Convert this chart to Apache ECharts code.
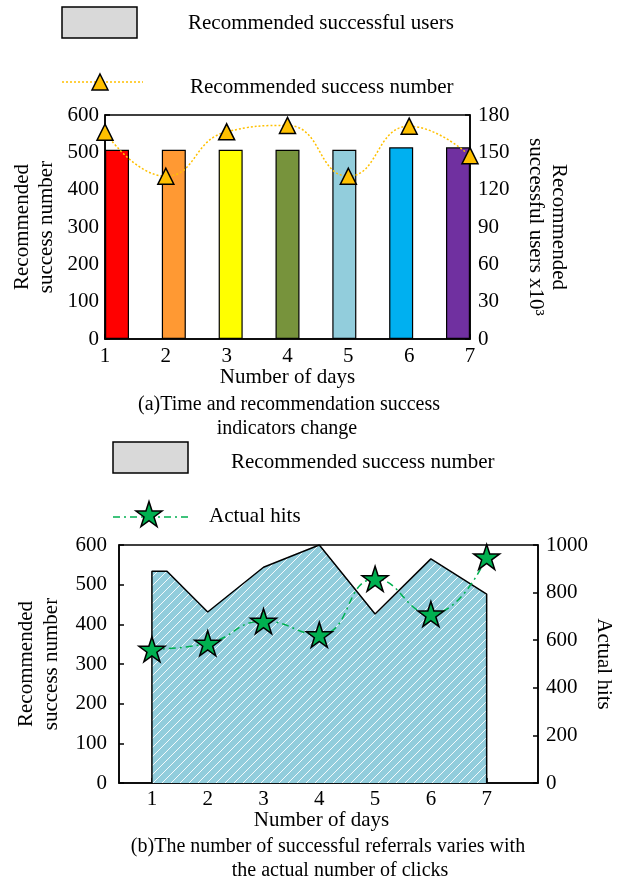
<!DOCTYPE html>
<html>
<head>
<meta charset="utf-8">
<script src="https://cdn.jsdelivr.net/npm/echarts@6/dist/echarts.min.js"></script>
<style>
  html, body { margin: 0; padding: 0; background: #fff; }
  #chart { width: 619px; height: 885px; }
</style>
</head>
<body>
<div id="chart"></div>
<script>
// ---- data: panel (a) ----
const days = [1, 2, 3, 4, 5, 6, 7];
const dayLabels = ['1', '2', '3', '4', '5', '6', '7'];
const successUsers = [152, 152, 152, 152, 152, 154, 154];      // x10^3, right axis
const successNumberA = [554, 436, 555, 572, 436, 570, 491];     // left axis

// ---- data: panel (b) ----
const areaDays = [1, 1, 1.27, 2, 3, 4, 5, 6, 7, 7];
const areaNumber = [0, 534, 534, 431, 544, 600, 426, 565, 476, 0];
const actualHits = [562, 587, 680, 623, 858, 710, 950];

// ---- tick settings ----
const leftTicksA = { min: 0, max: 600, interval: 100 };
const rightTicksA = { min: 0, max: 180, interval: 30 };
const leftTicksB = { min: 0, max: 600, interval: 100 };
const rightTicksB = { min: 0, max: 1000, interval: 200 };

// bar fill colours, one per day
const barColors = ['#FF0000', '#FF9933', '#FFFF00', '#77933C', '#92CDDC', '#00B0F0', '#7030A0'];

const FONT = 'Liberation Serif';
const FS = 21;

// striped fill for the area
function stripePattern() {
  const c = document.createElement('canvas');
  const s = 9;
  c.width = s; c.height = s;
  const g = c.getContext('2d');
  g.fillStyle = '#92CDDC';
  g.fillRect(0, 0, s, s);
  g.strokeStyle = 'rgba(255,255,255,0.9)';
  g.lineWidth = 1;
  for (const k of [-s, 0, s]) {
    g.beginPath();
    g.moveTo(k, s);
    g.lineTo(k + s, 0);
    g.stroke();
  }
  return c;
}

// five-pointed star outline in a 100x100 box
const STAR_PTS = [[50, 0], [61.23, 34.55], [97.55, 34.55], [68.17, 55.9], [79.39, 90.45],
                  [50, 69.1], [20.61, 90.45], [31.83, 55.9], [2.45, 34.55], [38.77, 34.55]];
const STAR = 'path://M' + STAR_PTS.map(p => p.join(',')).join('L') + 'Z';
function starAt(cx, cy, w, h) {
  return STAR_PTS.map(p => [cx + (p[0] - 50) / 95.1 * w, cy + (p[1] - 45.2) / 90.45 * h]);
}

const axisText = { color: '#000', fontFamily: FONT, fontSize: FS };
const line = { lineStyle: { color: '#000', width: 1.5 } };
const tick = { inside: true, length: 5, lineStyle: { color: '#000', width: 1.5 } };
const plain = v => String(v);
const txt = (x, y, text, size, align) => ({
  type: 'text', x: x, y: y,
  style: { text: text, fill: '#000', font: size + 'px "' + FONT + '"', align: align || 'left', verticalAlign: 'middle' }
});

// half a bar, in day units, so the outer bars touch the frame
const barPad = 0.211;

const chart = echarts.init(document.getElementById('chart'), null, { renderer: 'canvas' });

chart.setOption({
  animation: false,
  backgroundColor: '#fff',
  textStyle: { fontFamily: FONT },
  grid: [
    { left: 105, top: 115, width: 365, height: 224, outerBoundsMode: 'none', containLabel: false,
      show: true, borderColor: '#000', borderWidth: 1.5, backgroundColor: 'transparent' },
    { left: 119, top: 545, width: 419, height: 238, outerBoundsMode: 'none', containLabel: false,
      show: true, borderColor: '#000', borderWidth: 1.5, backgroundColor: 'transparent' }
  ],
  xAxis: [
    {
      gridIndex: 0, type: 'category', data: dayLabels, boundaryGap: false,
      axisLine: line, axisTick: Object.assign({ alignWithLabel: true }, tick),
      axisLabel: Object.assign({ margin: 7 }, axisText),
      splitLine: { show: false },
      name: 'Number of days', nameLocation: 'middle', nameGap: 28, nameMoveOverlap: false,
      nameTextStyle: axisText
    },
    {
      gridIndex: 0, type: 'value', min: days[0] - barPad, max: days[days.length - 1] + barPad, show: false
    },
    {
      gridIndex: 1, type: 'value', min: 0.41, max: 7.92,
      axisLine: line,
      axisTick: Object.assign({ customValues: days }, tick),
      axisLabel: Object.assign({ customValues: days, margin: 6, formatter: plain }, axisText),
      splitLine: { show: false },
      name: 'Number of days', nameLocation: 'middle', nameGap: 27, nameMoveOverlap: false,
      nameTextStyle: Object.assign({ padding: [0, 14, 0, 0] }, axisText)
    }
  ],
  yAxis: [
    {
      gridIndex: 0, type: 'value', position: 'left',
      min: leftTicksA.min, max: leftTicksA.max, interval: leftTicksA.interval,
      axisLine: line, axisTick: tick, axisLabel: Object.assign({ margin: 6, formatter: plain }, axisText),
      splitLine: { show: false },
      name: 'Recommended\nsuccess number', nameLocation: 'middle', nameRotate: 90, nameGap: 47,
      nameMoveOverlap: false,
      nameTextStyle: Object.assign({ lineHeight: 24 }, axisText)
    },
    {
      gridIndex: 0, type: 'value', position: 'right',
      min: rightTicksA.min, max: rightTicksA.max, interval: rightTicksA.interval,
      axisLine: line, axisTick: tick, axisLabel: Object.assign({ margin: 8, formatter: plain }, axisText),
      splitLine: { show: false },
      name: 'Recommended\nsuccessful users x10³', nameLocation: 'middle', nameRotate: -90, nameGap: 54,
      nameMoveOverlap: false,
      nameTextStyle: Object.assign({ lineHeight: 23 }, axisText)
    },
    {
      gridIndex: 1, type: 'value', position: 'left',
      min: leftTicksB.min, max: leftTicksB.max, interval: leftTicksB.interval,
      axisLine: line, axisTick: tick, axisLabel: Object.assign({ margin: 12, formatter: plain }, axisText),
      splitLine: { show: false },
      name: 'Recommended\nsuccess number', nameLocation: 'middle', nameRotate: 90, nameGap: 55,
      nameMoveOverlap: false,
      nameTextStyle: Object.assign({ lineHeight: 25 }, axisText)
    },
    {
      gridIndex: 1, type: 'value', position: 'right',
      min: rightTicksB.min, max: rightTicksB.max, interval: rightTicksB.interval,
      axisLine: line, axisTick: tick, axisLabel: Object.assign({ margin: 8, formatter: plain }, axisText),
      splitLine: { show: false },
      name: 'Actual hits', nameLocation: 'middle', nameRotate: -90, nameGap: 55,
      nameMoveOverlap: false,
      nameTextStyle: axisText
    }
  ],
  series: [
    {
      name: 'Recommended successful users', type: 'bar',
      xAxisIndex: 1, yAxisIndex: 1, barWidth: 24,
      data: days.map((d, i) => ({
        value: [d, successUsers[i]],
        itemStyle: { color: barColors[i], borderColor: '#000', borderWidth: 1.2 }
      })),
      z: 2
    },
    {
      name: 'Recommended success number', type: 'line',
      xAxisIndex: 0, yAxisIndex: 0, smooth: 0.5,
      data: successNumberA,
      lineStyle: { color: '#FFC000', width: 1.5, type: [2, 2] },
      symbol: 'triangle', symbolSize: [16, 16],
      itemStyle: { color: '#FFC000', borderColor: '#000', borderWidth: 1.5 },
      z: 3
    },
    {
      name: 'Recommended success number', type: 'line',
      xAxisIndex: 2, yAxisIndex: 2,
      data: areaDays.map((d, i) => [d, areaNumber[i]]),
      symbol: 'none',
      lineStyle: { color: '#000', width: 1.5 },
      areaStyle: { color: { image: stripePattern(), repeat: 'repeat' }, opacity: 1, origin: 'start' },
      z: 2
    },
    {
      name: 'Actual hits', type: 'line',
      xAxisIndex: 2, yAxisIndex: 3, smooth: 0.5,
      data: days.map((d, i) => [d, actualHits[i]]),
      lineStyle: { color: '#00B050', width: 1.5, type: [7, 4, 2, 4] },
      symbol: STAR, symbolSize: [26, 25],
      itemStyle: { color: '#00B050', borderColor: '#000', borderWidth: 1.5 },
      z: 3
    }
  ],
  graphic: [
    // legend of panel (a)
    { type: 'rect', shape: { x: 62, y: 7, width: 75, height: 31 }, style: { fill: '#D9D9D9', stroke: '#000', lineWidth: 1.5 } },
    txt(188, 23, 'Recommended successful users', FS),
    { type: 'line', shape: { x1: 62, y1: 82, x2: 143, y2: 82 }, style: { stroke: '#FFC000', lineWidth: 1.5, lineDash: [2, 2] } },
    { type: 'polygon', shape: { points: [[100, 74], [108, 90], [92, 90]] }, style: { fill: '#FFC000', stroke: '#000', lineWidth: 1.5 } },
    txt(190, 87, 'Recommended success number', FS),
    // caption (a)
    txt(289, 405, '(a)Time and recommendation success', 20, 'center'),
    txt(287, 429, 'indicators change', 20, 'center'),
    // legend of panel (b)
    { type: 'rect', shape: { x: 113, y: 442, width: 75, height: 31 }, style: { fill: '#D9D9D9', stroke: '#000', lineWidth: 1.5 } },
    txt(231, 462, 'Recommended success number', FS),
    { type: 'line', shape: { x1: 113, y1: 517, x2: 192, y2: 517 }, style: { stroke: '#00B050', lineWidth: 1.5, lineDash: [7, 4, 2, 4] } },
    { type: 'polygon', shape: { points: starAt(149, 514, 26, 25) }, style: { fill: '#00B050', stroke: '#000', lineWidth: 1.5 } },
    txt(209, 516, 'Actual hits', FS),
    // caption (b)
    txt(328, 847, '(b)The number of successful referrals varies with', 20, 'center'),
    txt(340, 871, 'the actual number of clicks', 20, 'center')
  ]
});
</script>
</body>
</html>
